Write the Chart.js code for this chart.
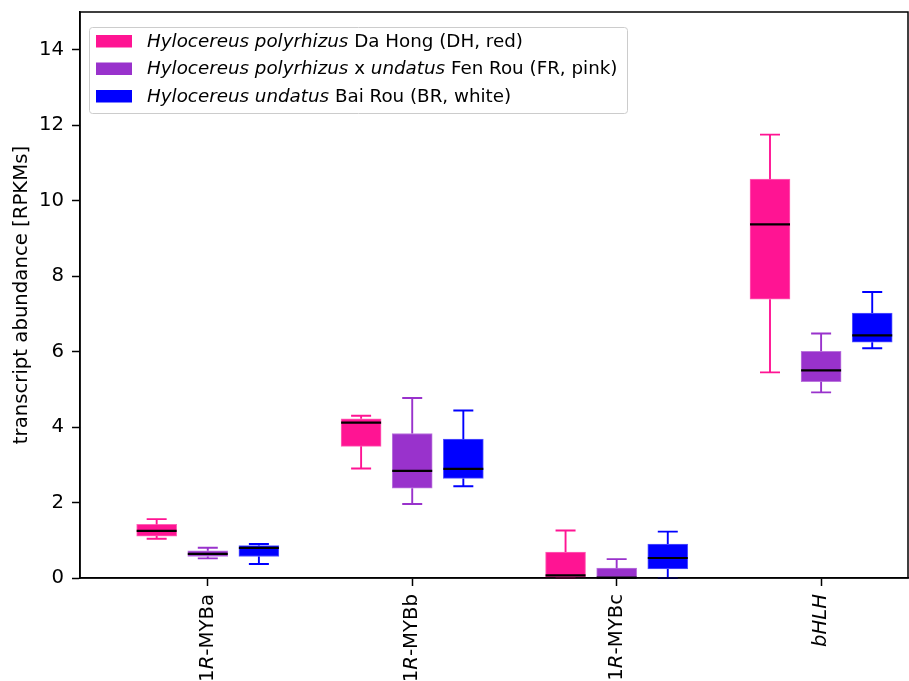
<!DOCTYPE html>
<html>
<head>
<meta charset="utf-8">
<script src="https://cdn.jsdelivr.net/npm/chart.js@4/dist/chart.umd.min.js"></script>
<style>
  html, body { margin: 0; padding: 0; background: #fff; }
  #wrap { width: 909px; height: 681px; }
</style>
</head>
<body>
<div id="wrap"><canvas id="box"></canvas></div>
<script>
// genes on the x axis (parts between * are italic)
const genes = ['1*R*-MYBa', '1*R*-MYBb', '1*R*-MYBc', '*bHLH*'];
const genePos = [2, 6, 10, 14];

// cultivars (legend)
const cultivars = [
  '*Hylocereus polyrhizus* Da Hong (DH, red)',
  '*Hylocereus polyrhizus* x *undatus* Fen Rou (FR, pink)',
  '*Hylocereus undatus* Bai Rou (BR, white)'
];
const colors = ['#ff1493', '#9932cc', '#0000ff'];
const yTicks = [0, 2, 4, 6, 8, 10, 12, 14];

// box stats per gene: [low whisker, q1, median, q3, high whisker]
const dhStats = [[1.04, 1.11, 1.25, 1.42, 1.56], [2.90, 3.49, 4.12, 4.22, 4.30], [0.00, 0.00, 0.07, 0.69, 1.26], [5.45, 7.39, 9.37, 10.57, 11.75]];
const frStats = [[0.52, 0.57, 0.64, 0.72, 0.80], [1.96, 2.38, 2.84, 3.83, 4.77], [0.00, 0.00, 0.01, 0.26, 0.50], [4.92, 5.20, 5.50, 6.01, 6.48]];
const brStats = [[0.37, 0.57, 0.80, 0.86, 0.90], [2.43, 2.64, 2.89, 3.68, 4.44], [0.00, 0.24, 0.53, 0.90, 1.23], [6.09, 6.25, 6.43, 7.02, 7.58]];
const allStats = [dhStats, frStats, brStats];

const FONT = '"DejaVu Sans", sans-serif';
const FS = 19.7;      // axis text
const LEG_FS = 18.3;  // legend text
const BOX_W = 40;

// split "a *b* c" into [{t, it}]
function parts(str) {
  return str.split('*').map((t, i) => ({ t: t, it: i % 2 === 1 })).filter(p => p.t.length);
}
function fontFor(it, size) {
  return (it ? 'italic ' : '') + size + 'px ' + FONT;
}
function measure(ctx, str, size) {
  let w = 0;
  parts(str).forEach(p => { ctx.font = fontFor(p.it, size); w += ctx.measureText(p.t).width; });
  return w;
}
function drawRich(ctx, str, x, y, size) {
  parts(str).forEach(p => {
    ctx.font = fontFor(p.it, size);
    ctx.fillText(p.t, x, y);
    x += ctx.measureText(p.t).width;
  });
}

const datasets = allStats.map((stats, s) => ({
  label: cultivars[s],
  data: stats.map((st, g) => ({ x: genePos[g] + (s - 1), y: [st[1], st[3]] })),
  backgroundColor: colors[s],
  borderColor: colors[s] + 'aa',
  borderWidth: 1,
  borderSkipped: false,
  barThickness: BOX_W,
  grouped: false,
  stats: stats
}));

// whiskers, caps and medians
const boxExtras = {
  id: 'boxExtras',
  afterDatasetsDraw(chart) {
    const ctx = chart.ctx;
    const xs = chart.scales.x, ys = chart.scales.y;
    chart.data.datasets.forEach((ds, s) => {
      ds.stats.forEach((st, g) => {
        const cx = xs.getPixelForValue(genePos[g] + (s - 1));
        const yLo = ys.getPixelForValue(st[0]);
        const yQ1 = ys.getPixelForValue(st[1]);
        const yMed = ys.getPixelForValue(st[2]);
        const yQ3 = ys.getPixelForValue(st[3]);
        const yHi = ys.getPixelForValue(st[4]);
        ctx.save();
        ctx.strokeStyle = ds.backgroundColor;
        ctx.lineWidth = 1.9;
        ctx.beginPath();
        ctx.moveTo(cx, yQ1); ctx.lineTo(cx, yLo);
        ctx.moveTo(cx, yQ3); ctx.lineTo(cx, yHi);
        ctx.moveTo(cx - BOX_W / 4, yLo); ctx.lineTo(cx + BOX_W / 4, yLo);
        ctx.moveTo(cx - BOX_W / 4, yHi); ctx.lineTo(cx + BOX_W / 4, yHi);
        ctx.stroke();
        ctx.strokeStyle = '#000';
        ctx.lineWidth = 2.2;
        ctx.beginPath();
        ctx.moveTo(cx - BOX_W / 2, yMed); ctx.lineTo(cx + BOX_W / 2, yMed);
        ctx.stroke();
        ctx.restore();
      });
    });
  }
};

// frame, x tick labels and legend
const decor = {
  id: 'decor',
  afterDraw(chart) {
    const ctx = chart.ctx;
    const a = chart.chartArea;
    ctx.save();
    ctx.strokeStyle = '#000';
    ctx.lineWidth = 1.5;
    ctx.strokeRect(a.left, a.top, a.right - a.left, a.bottom - a.top);

    // rotated x labels
    ctx.fillStyle = '#000';
    ctx.textBaseline = 'middle';
    ctx.textAlign = 'left';
    genes.forEach((g, i) => {
      const px = chart.scales.x.getPixelForValue(genePos[i]);
      const w = measure(ctx, g, FS);
      ctx.save();
      ctx.translate(px, a.bottom + 16);
      ctx.rotate(-Math.PI / 2);
      drawRich(ctx, g, -w, 0, FS);
      ctx.restore();
    });

    // legend
    const lx = 89, ly = 27, lw = 538, lh = 86;
    ctx.fillStyle = 'rgba(255,255,255,0.8)';
    ctx.strokeStyle = '#cccccc';
    ctx.lineWidth = 1;
    ctx.beginPath();
    ctx.roundRect(lx + 0.5, ly + 0.5, lw, lh, 3);
    ctx.fill();
    ctx.stroke();
    cultivars.forEach((c, i) => {
      const ry = ly + 14 + i * 27.5;
      ctx.fillStyle = colors[i];
      ctx.fillRect(lx + 7, ry - 6, 36, 12.5);
      ctx.fillStyle = '#000';
      drawRich(ctx, c, lx + 58, ry + 1, LEG_FS);
    });
    ctx.restore();
  }
};

new Chart(document.getElementById('box'), {
  type: 'bar',
  data: { datasets: datasets },
  plugins: [boxExtras, decor],
  options: {
    responsive: true,
    maintainAspectRatio: false,
    animation: false,
    layout: { padding: { top: 12, right: 1, left: 0, bottom: 0 } },
    plugins: { legend: { display: false }, tooltip: { enabled: false } },
    scales: {
      x: {
        type: 'linear',
        min: -0.5,
        max: 15.7,
        offset: false,
        afterBuildTicks: (scale) => { scale.ticks = genePos.map(v => ({ value: v })); },
        afterFit: (scale) => { scale.height = 103; scale.paddingLeft = 0; scale.paddingRight = 0; },
        ticks: { display: false },
        grid: { offset: false, drawOnChartArea: false, tickLength: 8, tickColor: '#000', tickWidth: 1.5 },
        border: { color: '#000', width: 1.5 }
      },
      y: {
        min: 0,
        max: 15,
        afterBuildTicks: (scale) => { scale.ticks = yTicks.map(v => ({ value: v })); },
        afterFit: (scale) => { scale.width = 80; scale.paddingTop = 0; scale.paddingBottom = 0; },
        ticks: { color: '#000', font: { family: FONT, size: FS }, padding: 8 },
        grid: { drawOnChartArea: false, tickLength: 8, tickColor: '#000', tickWidth: 1.5 },
        border: { color: '#000', width: 1.5 },
        title: {
          display: true,
          text: 'transcript abundance [RPKMs]',
          color: '#000',
          font: { family: FONT, size: FS },
          padding: { top: 10, bottom: 0 }
        }
      }
    }
  }
});
</script>
</body>
</html>
